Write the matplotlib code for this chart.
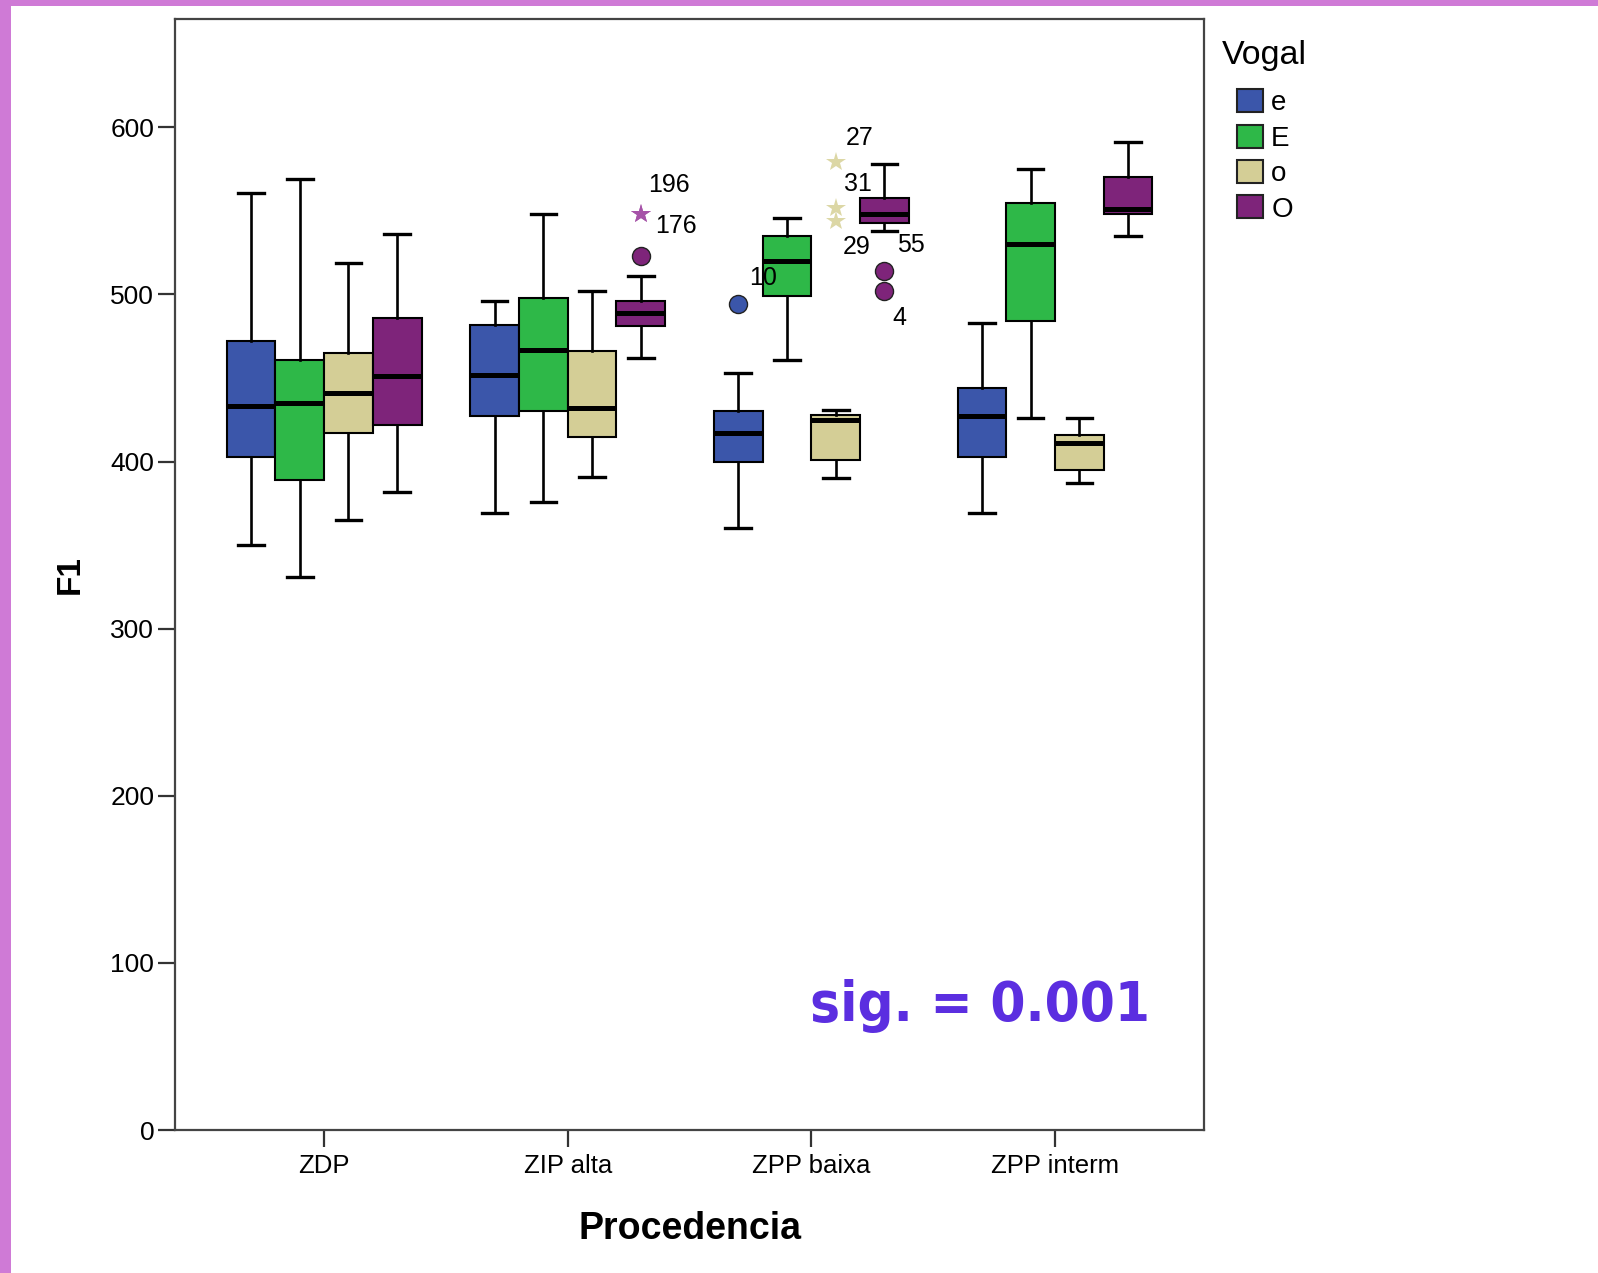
import os
import matplotlib
matplotlib.use('Agg')
import matplotlib.pyplot as plt
from matplotlib import font_manager
from matplotlib.font_manager import FontProperties
from matplotlib.patches import Patch, Rectangle

# data
groups = ['ZDP', 'ZIP alta', 'ZPP baixa', 'ZPP interm']
vowels = ['e', 'E', 'o', 'O']
colors = ['#3b56aa', '#2eb848', '#d4ce96', '#7e247a']
star_colors = ['#8a9ad0', '#8fd89c', '#dcd7a5', '#a653a8']

# whislo, q1, median, q3, whishi for each group
e_box = [[350, 403, 433, 472, 561], [369, 427, 452, 482, 496],
         [360, 400, 417, 430, 453], [369, 403, 427, 444, 483]]
E_box = [[331, 389, 435, 461, 569], [376, 430, 467, 498, 548],
         [461, 499, 520, 535, 546], [426, 484, 530, 555, 575]]
o_box = [[365, 417, 441, 465, 519], [391, 415, 432, 466, 502],
         [390, 401, 425, 428, 431], [387, 395, 411, 416, 426]]
O_box = [[382, 422, 451, 486, 536], [462, 481, 489, 496, 511],
         [538, 543, 548, 558, 578], [535, 548, 551, 570, 591]]
boxes = [e_box, E_box, o_box, O_box]

# outliers: (group, vowel, F1, case label)
circle_pts = [(1, 3, 523, ''), (2, 0, 494, '10'), (2, 3, 514, '55'), (2, 3, 502, '4')]
star_pts = [(1, 3, 548, '196'), (1, 3, 548, '176'), (2, 2, 579, '27'),
            (2, 2, 552, '31'), (2, 2, 544, '29')]

yticks = [0, 100, 200, 300, 400, 500, 600]

# label placement next to the marker, in pixels
label_offsets = {'196': (28, 29), '176': (35, -12), '10': (25, 26), '55': (26, 26),
                 '4': (15, -27), '27': (24, 24), '31': (22, 24), '29': (21, -26)}
offsets = [-0.3, -0.1, 0.1, 0.3]


def condensed_bold():
    # look for any narrow / condensed bold face that happens to be installed
    for f in sorted(font_manager.fontManager.ttflist, key=lambda f: f.fname):
        base = os.path.basename(f.fname).lower()
        cond = ('condensed' in str(f.stretch).lower() or 'narrow' in f.name.lower()
                or 'condensed' in f.name.lower() or 'condensed' in base or 'narrow' in base)
        w = f.weight
        bold = w == 'bold' or (isinstance(w, int) and w >= 600)
        if cond and bold and f.style == 'normal':
            return f.fname
    return None


plt.rcParams['font.family'] = ['Liberation Sans', 'DejaVu Sans']

fig = plt.figure(figsize=(15.98, 12.73), dpi=100)
ax = fig.add_axes([0.1095, 0.1123, 0.644, 0.873])

for v in range(4):
    stats = []
    for g in range(4):
        lo, q1, med, q3, hi = boxes[v][g]
        stats.append(dict(whislo=lo, q1=q1, med=med, q3=q3, whishi=hi, fliers=[]))
    ax.bxp(stats, positions=[g + offsets[v] for g in range(4)], widths=0.2,
           capwidths=0.105, patch_artist=True, showfliers=False, manage_ticks=False,
           boxprops=dict(facecolor=colors[v], edgecolor='black', linewidth=1.5),
           medianprops=dict(color='black', linewidth=3.6, solid_capstyle='butt'),
           whiskerprops=dict(color='black', linewidth=1.9),
           capprops=dict(color='black', linewidth=2.4))

for g, v, val, lab in circle_pts:
    ax.plot(g + offsets[v], val, 'o', ms=13, mfc=colors[v], mec='#222222', mew=1.0)
    if lab:
        ax.annotate(lab, (g + offsets[v], val), xytext=label_offsets[lab],
                    textcoords='offset pixels', ha='center', va='center', fontsize=18)
for g, v, val, lab in star_pts:
    ax.plot(g + offsets[v], val, '*', ms=15, color=star_colors[v], mew=0)
    ax.annotate(lab, (g + offsets[v], val), xytext=label_offsets[lab],
                textcoords='offset pixels', ha='center', va='center', fontsize=18)

ax.set_xlim(-0.612, 3.612)
ax.set_ylim(0, 665)
ax.set_yticks(yticks)
ax.set_yticklabels([str(t) for t in yticks], fontsize=19)
ax.set_xticks(range(4))
ax.set_xticklabels(groups, fontsize=18.5)
ax.tick_params(axis='both', direction='out', length=12, width=1.6, color='#333333')
ax.tick_params(axis='y', pad=3)
ax.tick_params(axis='x', pad=5)
for s in ax.spines.values():
    s.set_color('#444444')
    s.set_linewidth(1.6)

ax.set_xlabel('Procedencia', fontsize=27, fontweight='bold')
ax.set_ylabel('F1', fontsize=24, fontweight='bold')
ax.xaxis.set_label_coords(0.5, -0.0725)
ax.yaxis.set_label_coords(-0.0865, 0.5)

fname = condensed_bold()
if fname:
    sig = ax.text(3.39, 65, 'sig. = 0.001', ha='right', va='baseline', color='#5b2ee0',
                  fontproperties=FontProperties(fname=fname, size=56))
else:
    sig = ax.text(3.39, 65, 'sig. = 0.001', ha='right', va='baseline', color='#5b2ee0',
                  fontsize=45, fontweight='bold')
# fit the annotation to the width it has in the original (about 340 px)
fig.canvas.draw()
w = sig.get_window_extent().width
sig.set_fontsize(sig.get_fontsize() * 340 / w)

handles = [Patch(facecolor=c, edgecolor='#222222', linewidth=1.5) for c in colors]
fig.legend(handles, vowels, loc='upper left', bbox_to_anchor=(0.774, 0.930),
           frameon=False, fontsize=20, handlelength=0.935, handleheight=0.9,
           labelspacing=0.3, handletextpad=0.3, borderpad=0, borderaxespad=0)
fig.text(0.7647, 1 - 64 / 1273, 'Vogal', fontsize=24.5, ha='left', va='baseline')

# purple page border
fig.add_artist(Rectangle((0, 0), 11 / 1598, 1, transform=fig.transFigure,
                         color='#cf7ad6', lw=0))
fig.add_artist(Rectangle((0, 1 - 6 / 1273), 1, 6 / 1273, transform=fig.transFigure,
                         color='#cf7ad6', lw=0))

fig.savefig('out.png', dpi=100)
